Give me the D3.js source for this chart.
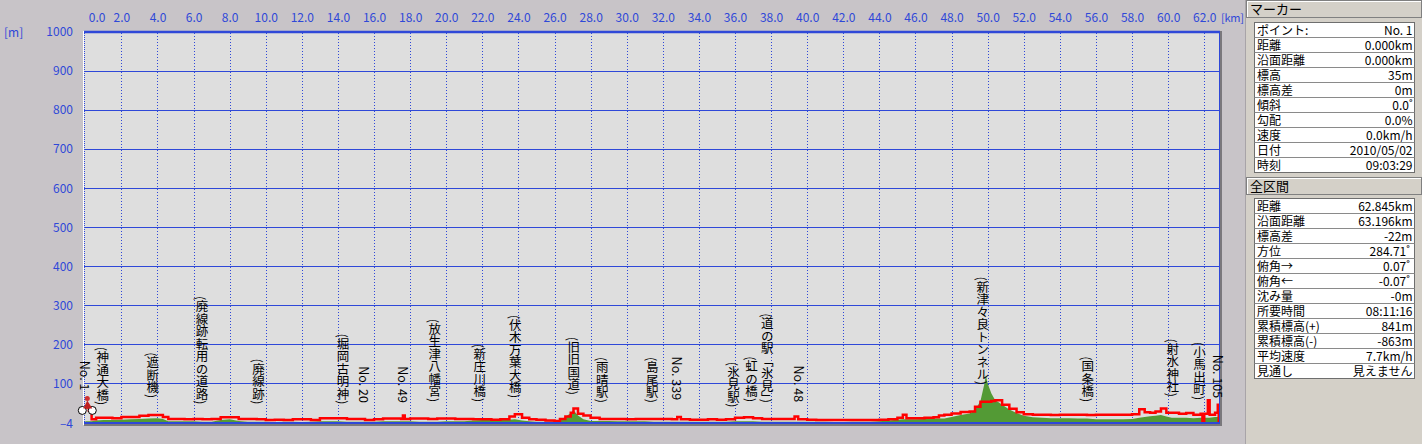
<!DOCTYPE html>
<html><head><meta charset="utf-8">
<script src="https://cdn.jsdelivr.net/npm/d3@7"></script>
<style>
html,body{margin:0;padding:0;background:#c8c4c8;}
svg{display:block;}
text{font-family:"Noto Sans CJK JP","Noto Sans",sans-serif;}
</style></head>
<body>
<svg id="c" width="1422" height="444"></svg>
<script>
// ---------- data ----------
const dist = [0.0,0.2,0.35,0.6,1.0,1.5,2.0,2.5,3.0,3.5,4.0,4.3,4.6,5.0,5.5,6.0,6.5,7.0,7.5,8.0,8.5,9.0,9.5,10.0,10.5,11.0,11.5,12.0,12.5,13.0,13.5,14.0,14.5,15.0,15.5,16.0,16.5,17.0,17.5,17.6,17.7,18.0,18.5,19.0,19.5,20.0,20.5,21.0,21.5,22.0,22.5,23.0,23.5,23.8,24.2,24.6,25.0,25.5,26.0,26.3,26.6,26.9,27.05,27.3,27.6,28.0,28.5,29.0,29.5,30.0,30.5,31.0,31.5,32.0,32.5,32.8,33.0,33.5,34.0,34.5,35.0,35.5,36.0,36.5,37.0,37.5,38.0,38.5,39.0,39.3,39.5,40.0,40.5,41.0,41.5,42.0,42.5,43.0,43.5,44.0,44.5,45.0,45.3,45.5,46.0,46.5,47.0,47.3,47.6,48.0,48.5,49.0,49.3,49.6,49.8,49.9,50.0,50.2,50.4,50.8,51.2,51.6,52.0,52.5,53.0,53.5,54.0,54.5,55.0,55.5,56.0,56.5,57.0,57.5,58.0,58.4,58.7,59.0,59.3,59.6,59.9,60.2,60.6,61.0,61.4,61.8,61.9,62.0,62.2,62.3,62.6,62.75,62.8,62.845];
const gpsElev = [38,30,8,12,12,11,14,14,17,19,19,14,9,9,8,9,8,9,13,13,9,9,8,6,7,6,8,8,6,11,11,11,9,9,6,8,10,10,9,18,9,10,10,9,10,10,9,9,8,8,7,8,15,21,12,8,7,5,4,9,15,25,36,22,18,12,9,9,9,8,9,9,9,9,8,14,8,7,7,8,7,8,12,13,11,9,9,9,9,15,8,7,6,6,6,6,6,6,6,7,8,12,20,11,11,12,13,18,20,23,27,28,40,53,53,53,53,55,57,45,35,26,21,20,20,19,20,20,20,19,20,20,20,20,21,34,26,25,28,36,25,25,22,24,20,22,2,22,57,20,25,45,2,22];
const demElev = [3,3,3,5,6,6,7,8,9,10,11,9,3,3,3,3,2,2,6,8,4,2,2,2,1,2,2,1,2,3,3,3,2,2,2,2,3,3,3,3,3,3,2,2,2,3,3,3,5,6,6,6,7,8,5,3,2,2,3,6,14,24,31,18,8,4,4,4,3,3,3,3,2,2,2,2,2,2,2,2,2,2,3,3,3,2,2,2,2,2,2,2,2,2,1,1,2,2,2,3,5,7,8,8,8,9,10,10,10,14,19,23,32,55,95,121,100,75,58,45,33,24,17,13,12,11,11,11,10,10,8,8,8,8,9,12,14,16,17,19,15,12,12,12,11,12,12,12,12,12,14,14,12,12];

const labelKm   = [0.0,0.97,3.74,6.46,9.60,14.28,15.46,17.64,19.36,21.85,23.83,27.07,28.64,31.41,32.80,35.91,36.92,37.79,39.55,49.72,55.54,60.26,61.73,62.80];
const labelText = ["No. 1","(神通大橋)","(遮断機)","(廃線跡転用の道路)","(廃線跡)","(堀岡古明神)","No. 20","No. 49","(放生津八幡宮)","(新庄川橋)","(伏木万葉大橋)","(旧旧国道)","(雨晴駅)","(島尾駅)","No. 339","(氷見駅)","(虹の橋)","(道の駅「氷見」)","No. 48","(新津々良トンネル)","(国条橋)","(射水神社)","(小馬出町)","No. 105"];
const labelAlt  = [82,44,62,46,46,46,50,50,52,52,62,70,50,50,57,38,52,50,52,96,52,65,57,62];

const xTicks = [0,2,4,6,8,10,12,14,16,18,20,22,24,26,28,30,32,34,36,38,40,42,44,46,48,50,52,54,56,58,60,62];
const yTicks = [-4,100,200,300,400,500,600,700,800,900,1000];
const yGrid  = [100,200,300,400,500,600,700,800,900];

const markerLabels = ["ポイント:","距離","沿面距離","標高","標高差","傾斜","勾配","速度","日付","時刻"];
const markerValues = ["No. 1","0.000km","0.000km","35m","0m","0.0˚","0.0%","0.0km/h","2010/05/02","09:03:29"];
const totalLabels = ["距離","沿面距離","標高差","方位","俯角→","俯角←","沈み量","所要時間","累積標高(+)","累積標高(-)","平均速度","見通し"];
const totalValues = ["62.845km","63.196km","-22m","284.71˚ ","0.07˚ ","-0.07˚ ","-0m","08:11:16","841m","-863m","7.7km/h","見えません"];

// ---------- chart ----------
const svg = d3.select("#c");
const L = 84, R = 1220, T = 31, B = 424;
const x = d3.scaleLinear().domain([0, 62.845]).range([85.3, 1219.5]);
const y = d3.scaleLinear().domain([-4, 1000]).range([424, 32]);
const blue = "#2f48d8";

svg.append("rect").attr("x",0).attr("y",0).attr("width",1422).attr("height",444).attr("fill","#c8c4c8");
svg.append("rect").attr("x",L).attr("y",T).attr("width",R-L).attr("height",B-T).attr("fill","#dedede");

// horizontal grid
svg.append("g").selectAll("line").data(yGrid).join("line")
  .attr("x1",L).attr("x2",R).attr("y1",d=>Math.round(y(d))+0.5).attr("y2",d=>Math.round(y(d))+0.5)
  .attr("stroke",blue).attr("stroke-width",1);
// vertical dotted grid
svg.append("g").selectAll("line").data(xTicks.filter(d=>d>0)).join("line")
  .attr("x1",d=>Math.round(x(d))+0.5).attr("x2",d=>Math.round(x(d))+0.5).attr("y1",T+2).attr("y2",B)
  .attr("stroke",blue).attr("stroke-width",1).attr("stroke-dasharray","1,2");

// profile
const pts = dist.map((d,i)=>({d, g:gpsElev[i], e:demElev[i]}));
svg.append("path").datum(pts)
  .attr("d", d3.area().x(p=>x(p.d)).y0(y(0)).y1(p=>y(p.e)).curve(d3.curveLinear))
  .attr("fill","#539a35");
svg.append("path").datum(pts)
  .attr("d", d3.line().x(p=>x(p.d)).y(p=>y(p.g)).curve(d3.curveStepAfter))
  .attr("fill","none").attr("stroke","#ff0000").attr("stroke-width",2.5);

// frame
svg.append("line").attr("x1",L).attr("x2",R).attr("y1",T+1).attr("y2",T+1).attr("stroke",blue).attr("stroke-width",2.5);
svg.append("line").attr("x1",L-0.5).attr("x2",L-0.5).attr("y1",T).attr("y2",B+1).attr("stroke","#ffffff").attr("stroke-width",1);
svg.append("line").attr("x1",L+0.5).attr("x2",L+0.5).attr("y1",T).attr("y2",B).attr("stroke",blue).attr("stroke-width",1).attr("stroke-dasharray","1,1");
svg.append("line").attr("x1",R-0.5).attr("x2",R-0.5).attr("y1",T).attr("y2",B).attr("stroke",blue).attr("stroke-width",1);
svg.append("line").attr("x1",R+1).attr("x2",R+1).attr("y1",T).attr("y2",B+2).attr("stroke","#7a787c").attr("stroke-width",2);
svg.append("line").attr("x1",L).attr("x2",R).attr("y1",B-1).attr("y2",B-1).attr("stroke",blue).attr("stroke-width",2);
svg.append("line").attr("x1",L).attr("x2",R+2).attr("y1",B+1).attr("y2",B+1).attr("stroke","#7a787c").attr("stroke-width",2);

// axes
const xAxis = d3.axisTop(x).tickValues(xTicks).tickFormat(d3.format(".1f")).tickSize(0).tickPadding(0);
const gx = svg.append("g").attr("transform","translate(0,22)").call(xAxis);
gx.select(".domain").remove();
gx.selectAll("text").attr("fill",blue).attr("font-size",12).attr("font-family","'Noto Sans CJK JP'");
gx.selectAll(".tick").filter(d=>d===0).select("text").attr("text-anchor","start").attr("dx",3);

const yAxis = d3.axisLeft(y).tickValues(yTicks).tickFormat(d=>d<0?"–4":String(d)).tickSize(0).tickPadding(0);
const gy = svg.append("g").attr("transform","translate(73,0)").call(yAxis);
gy.select(".domain").remove();
gy.selectAll("text").attr("fill",blue).attr("font-size",12).attr("font-family","'Noto Sans CJK JP'");
svg.append("text").attr("x",4).attr("y",37).attr("fill",blue).attr("font-size",12).text("[m]");

// waypoint labels (vertical)
svg.append("g").selectAll("text").data(labelText).join("text")
  .attr("x",(d,i)=>x(labelKm[i]))
  .attr("y",(d,i)=>y(labelAlt[i]))
  .attr("text-anchor","end")
  .style("writing-mode","vertical-rl")
  .attr("font-size",12.5).attr("fill","#000")
  .text(d=>d);

// start marker icon
const mk = svg.append("g").attr("transform",`translate(${x(0)},${y(0)})`);
mk.append("circle").attr("cx",-3).attr("cy",-12).attr("r",4).attr("fill","#fff").attr("stroke","#000");
mk.append("circle").attr("cx",7).attr("cy",-12).attr("r",4).attr("fill","#fff").attr("stroke","#000");
mk.append("path").attr("d","M-2,-14 L2,-22 L7,-14 Z").attr("fill","#c02020");
mk.append("circle").attr("cx",2).attr("cy",-24).attr("r",2.5).attr("fill","#d03030");

// ---------- right panel ----------
const P = svg.append("g");
P.append("rect").attr("x",1246).attr("y",0).attr("width",176).attr("height",444).attr("fill","#d4d0c8");
P.append("line").attr("x1",1245.5).attr("x2",1245.5).attr("y1",0).attr("y2",444).attr("stroke","#a8a4a8");

// x unit label (drawn after panel background so it is not hidden)
svg.append("text").attr("x",1221).attr("y",22).attr("fill",blue).attr("font-size",11).attr("textLength",23).text("[km]");

function header(yTop, label){
  P.append("rect").attr("x",1246.5).attr("y",yTop+0.5).attr("width",175).attr("height",17).attr("fill","#d4d0c8").attr("stroke","#808080");
  P.append("line").attr("x1",1247).attr("x2",1421).attr("y1",yTop+1.5).attr("y2",yTop+1.5).attr("stroke","#fff");
  P.append("line").attr("x1",1247.5).attr("x2",1247.5).attr("y1",yTop+1).attr("y2",yTop+17).attr("stroke","#fff");
  P.append("text").attr("x",1250).attr("y",yTop+14).attr("font-size",13).attr("fill","#000").text(label);
}
function table(yTop, labels, values){
  const h = 15, w = 160, x0 = 1254.5;
  P.append("rect").attr("x",x0).attr("y",yTop+0.5).attr("width",w).attr("height",h*labels.length).attr("fill","#fff").attr("stroke","#6e6e6e");
  labels.forEach((lab,i)=>{
    const ry = yTop + i*h;
    if(i>0) P.append("line").attr("x1",x0).attr("x2",x0+w).attr("y1",ry+0.5).attr("y2",ry+0.5).attr("stroke","#8a8a8a");
    P.append("text").attr("x",x0+2.5).attr("y",ry+12.5).attr("font-size",12).attr("fill","#000").text(lab);
    P.append("text").attr("x",x0+w-2).attr("y",ry+12.5).attr("font-size",12).attr("fill","#000").attr("text-anchor","end").style("white-space","pre").text(values[i]);
  });
}
header(0,"マーカー");
table(22, markerLabels, markerValues);
header(177,"全区間");
table(198, totalLabels, totalValues);
</script>
</body></html>
